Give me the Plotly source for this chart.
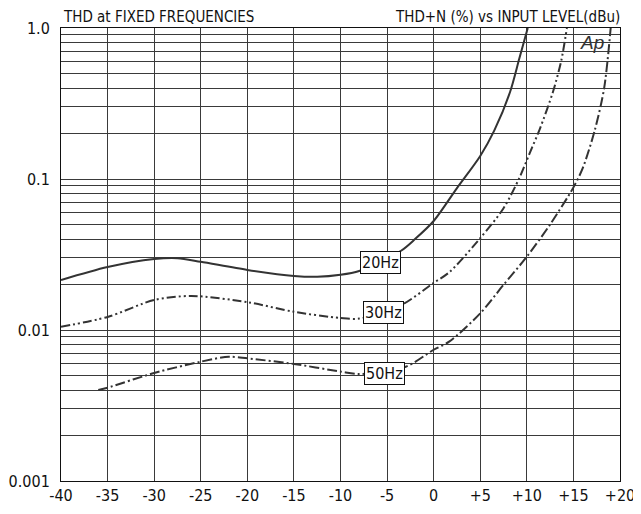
import math
import plotly.graph_objects as go

# ---------------- data ----------------
level_20hz = [-40, -35, -30, -27.5, -25, -20, -15, -12.5, -10, -8, -3.5, -2, 0, 2.5, 5, 6.5, 8.2, 9.2, 10.1]
thd_20hz = [0.0214, 0.0261, 0.0295, 0.0299, 0.0283, 0.0250, 0.0228, 0.0225, 0.0232, 0.0246,
            0.0335, 0.040, 0.0527, 0.087, 0.142, 0.209, 0.377, 0.63, 1.0]

level_30hz = [-40, -35, -30, -26, -20, -15, -10, -8, -3.5, 0, 1.7, 5, 7.5, 9.2, 10.3, 11.4, 12.8, 13.7, 14.3]
thd_30hz = [0.0105, 0.0122, 0.0158, 0.0168, 0.0153, 0.0132, 0.0120, 0.0119, 0.0146, 0.0205,
            0.0242, 0.0406, 0.064, 0.1016, 0.148, 0.215, 0.377, 0.61, 1.0]

level_50hz = [-36, -35, -30, -25, -22, -20, -15, -10, -8, -3, 0, 1.7, 5, 7.5, 10, 12.5, 15, 16, 17.3, 18.3, 19.0]
thd_50hz = [0.0040, 0.00415, 0.00519, 0.00617, 0.00665, 0.00649, 0.00596, 0.0053, 0.00511, 0.00571,
            0.0074, 0.0084, 0.0129, 0.0199, 0.0306, 0.050, 0.088, 0.118, 0.211, 0.40, 1.0]

series_names = ["20Hz", "30Hz", "50Hz"]
label_x = [-5.7, -5.4, -5.25]
label_y = [0.0278, 0.0130, 0.00519]

x_tickvals = [-40, -35, -30, -25, -20, -15, -10, -5, 0, 5, 10, 15, 20]
x_ticktext = ["-40", "-35", "-30", "-25", "-20", "-15", "-10", "-5", "0", "+5", "+10", "+15", "+20"]

y_decades = [0.001, 0.01, 0.1, 1.0]
y_decade_text = ["0.001", "0.01", "0.1", "1.0"]

title_left = "THD at FIXED FREQUENCIES"
title_right = "THD+N (%) vs INPUT LEVEL(dBu)"

# ---------------- styling ----------------
FONT = "DejaVu Sans Condensed, Liberation Sans Narrow, Arial Narrow, sans-serif"
LINE_COLOR = "#333333"
GRID = "#3a3a3a"

# y grid at 1..9 x each decade, labels only on decades
y_tickvals = []
y_ticktext = []
for d, t in zip(y_decades[:-1], y_decade_text[:-1]):
    for k in range(1, 10):
        y_tickvals.append(d * k)
        y_ticktext.append(t if k == 1 else "")
y_tickvals.append(y_decades[-1])
y_ticktext.append(y_decade_text[-1])

fig = go.Figure()
fig.add_trace(go.Scatter(x=level_20hz, y=thd_20hz, mode="lines", name=series_names[0],
                         line=dict(color=LINE_COLOR, width=2, shape="spline", smoothing=0.8)))
fig.add_trace(go.Scatter(x=level_30hz, y=thd_30hz, mode="lines", name=series_names[1],
                         line=dict(color=LINE_COLOR, width=2, shape="spline", smoothing=0.8,
                                   dash="9px,3px,2px,3px,2px,3px")))
fig.add_trace(go.Scatter(x=level_50hz, y=thd_50hz, mode="lines", name=series_names[2],
                         line=dict(color=LINE_COLOR, width=2, shape="spline", smoothing=0.8,
                                   dash="10px,3px,2px,3px")))

for name, lx, ly in zip(series_names, label_x, label_y):
    fig.add_annotation(x=lx, y=math.log10(ly), xref="x", yref="y", text=name, showarrow=False,
                       font=dict(family=FONT, size=16, color="#111"),
                       bgcolor="white", bordercolor="#111", borderwidth=1, borderpad=1)

# titles
fig.add_annotation(x=0, y=1, xref="paper", yref="paper", yshift=0, xanchor="left", yanchor="bottom",
                   text=title_left, showarrow=False, font=dict(family=FONT, size=15, color="#111"))
fig.add_annotation(x=1.003, y=1, xref="paper", yref="paper", yshift=0, xanchor="right", yanchor="bottom",
                   text=title_right, showarrow=False, font=dict(family=FONT, size=15, color="#111"))

# Ap logo area
fig.add_shape(type="rect", xref="paper", yref="paper", x0=0.934, x1=0.997, y0=0.951, y1=0.997,
              fillcolor="white", line=dict(width=0), layer="between")
fig.add_annotation(x=0.975, y=0.996, xref="paper", yref="paper", yanchor="top", text="<i>Ap</i>",
                   showarrow=False,
                   font=dict(family="Liberation Sans, Arial, sans-serif", size=19, color="#333"))

# page body has an 8px margin, so the figure is sized to fit the 641x514 window
fig.update_layout(
    width=633, height=506,
    margin=dict(l=53, r=21, t=20, b=33, autoexpand=False),
    paper_bgcolor="white", plot_bgcolor="white",
    showlegend=False,
    font=dict(family=FONT, size=16, color="#111"),
)
fig.update_xaxes(range=[-40, 20], tickvals=x_tickvals, ticktext=x_ticktext,
                 showgrid=True, gridcolor=GRID, gridwidth=1, automargin=False,
                 showline=True, linecolor="#111", linewidth=1, mirror=True,
                 ticks="", zeroline=False, tickfont=dict(family=FONT, size=16))
fig.update_yaxes(type="log", range=[-3, 0], tickvals=y_tickvals, ticktext=y_ticktext,
                 showgrid=True, gridcolor=GRID, gridwidth=1, automargin=False,
                 showline=True, linecolor="#111", linewidth=1, mirror=True,
                 ticks="", zeroline=False, tickfont=dict(family=FONT, size=16),
                 ticklabelstandoff=7)

fig.write_html("out.html")
